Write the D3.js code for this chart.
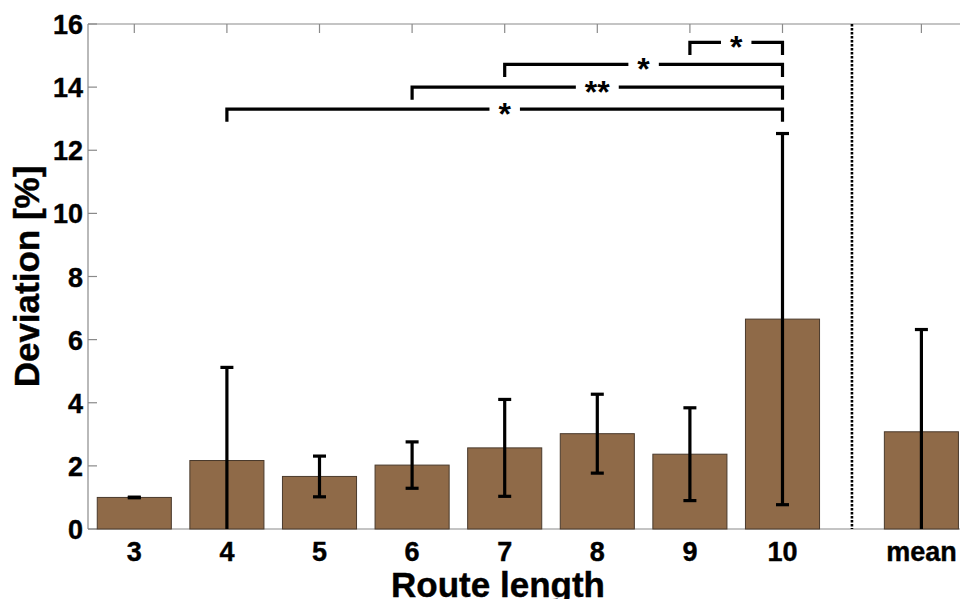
<!DOCTYPE html>
<html>
<head>
<meta charset="utf-8">
<script src="https://cdnjs.cloudflare.com/ajax/libs/d3/7.8.5/d3.min.js"></script>
<style>
  html, body { margin: 0; padding: 0; background: #fff; overflow: hidden; }
  svg { display: block; font-family: "Liberation Sans", Arial, sans-serif; font-weight: bold; }
</style>
</head>
<body>
<svg id="chart" width="960" height="599"></svg>
<script>
// Route lengths (plus the overall mean) and their deviation statistics
const categories = ["3", "4", "5", "6", "7", "8", "9", "10", "mean"];
const positions  = [3, 4, 5, 6, 7, 8, 9, 10, 11.5];
const means      = [1.00, 2.17, 1.665, 2.025, 2.57, 3.02, 2.37, 6.65, 3.08];
const errors     = [0.01, 2.95, 0.645, 0.735, 1.535, 1.25, 1.47, 5.88, 3.24];
const yTicks     = [0, 2, 4, 6, 8, 10, 12, 14, 16];
const separatorAt = 10.75;

// Significance brackets: [from, to, height, label]
const brackets = [
  [4, 10, 13.3, "*"],
  [6, 10, 14.0, "**"],
  [7, 10, 14.72, "*"],
  [9, 10, 15.42, "*"]
];

const svg = d3.select("#chart");
const plotLeft = 88, plotTop = 24, plotBottom = 529;
const step = 92.6;
const x = d3.scaleLinear().domain([2.5, 12.5]).range([plotLeft, plotLeft + step * 10]);
const y = d3.scaleLinear().domain([0, 16]).range([plotBottom, plotTop]);
const barW = 0.8 * (x(1) - x(0));
const axisColor = "#8a8a8a";

const plot = svg.append("g");

// Axis box (top, left, bottom)
plot.append("line").attr("x1", x(2.5)).attr("x2", x(12.5)).attr("y1", y(16)).attr("y2", y(16))
  .attr("stroke", axisColor).attr("stroke-width", 1.2);
plot.append("line").attr("x1", x(2.5)).attr("x2", x(12.5)).attr("y1", y(0)).attr("y2", y(0))
  .attr("stroke", axisColor).attr("stroke-width", 1.2);
plot.append("line").attr("x1", x(2.5)).attr("x2", x(2.5)).attr("y1", y(0)).attr("y2", y(16))
  .attr("stroke", axisColor).attr("stroke-width", 1.2);

// Inward ticks
const tickLen = 9;
plot.selectAll(".ytick").data(yTicks).join("line")
  .attr("x1", x(2.5)).attr("x2", x(2.5) + tickLen)
  .attr("y1", d => y(d)).attr("y2", d => y(d))
  .attr("stroke", axisColor).attr("stroke-width", 1.2);
plot.selectAll(".xtickTop").data(positions).join("line")
  .attr("x1", d => x(d)).attr("x2", d => x(d))
  .attr("y1", y(16)).attr("y2", y(16) + tickLen)
  .attr("stroke", axisColor).attr("stroke-width", 1.2);
plot.selectAll(".xtickBot").data(positions).join("line")
  .attr("x1", d => x(d)).attr("x2", d => x(d))
  .attr("y1", y(0)).attr("y2", y(0) - tickLen)
  .attr("stroke", axisColor).attr("stroke-width", 1.2);

// Tick labels
svg.selectAll(".ylab").data(yTicks).join("text")
  .attr("x", x(2.5) - 5).attr("y", d => y(d) + 10)
  .attr("text-anchor", "end").attr("font-size", 27).attr("fill", "#000")
  .attr("stroke", "#000").attr("stroke-width", 0.4)
  .text(d => d);
svg.selectAll(".xlab").data(categories).join("text")
  .attr("x", (d, i) => x(positions[i])).attr("y", 561)
  .attr("text-anchor", "middle").attr("font-size", 27).attr("fill", "#000")
  .attr("stroke", "#000").attr("stroke-width", 0.4)
  .text(d => d);

// Bars
const rows = categories.map((c, i) => ({ c, p: positions[i], m: means[i], e: errors[i] }));
plot.selectAll(".bar").data(rows).join("rect")
  .attr("x", d => x(d.p) - barW / 2).attr("width", barW)
  .attr("y", d => y(d.m)).attr("height", d => y(0) - y(d.m))
  .attr("fill", "#8f6a48").attr("stroke", "#4a3a2c").attr("stroke-width", 1);

// Error bars, clipped to the plot area
svg.append("clipPath").attr("id", "plotClip").append("rect")
  .attr("x", x(2.5)).attr("y", y(16)).attr("width", x(12.5) - x(2.5)).attr("height", y(0) - y(16));
const eb = svg.append("g").attr("clip-path", "url(#plotClip)");
const capW = 6.5;
rows.forEach(d => {
  const lo = d.m - d.e, hi = d.m + d.e;
  eb.append("line").attr("x1", x(d.p)).attr("x2", x(d.p)).attr("y1", y(lo)).attr("y2", y(hi))
    .attr("stroke", "#000").attr("stroke-width", 3.2);
  [lo, hi].forEach(v => {
    eb.append("line").attr("x1", x(d.p) - capW).attr("x2", x(d.p) + capW)
      .attr("y1", y(v)).attr("y2", y(v)).attr("stroke", "#000").attr("stroke-width", 3.2);
  });
});

// Separator between route lengths and the mean
plot.append("line").attr("x1", x(separatorAt)).attr("x2", x(separatorAt))
  .attr("y1", y(16)).attr("y2", y(0))
  .attr("stroke", "#000").attr("stroke-width", 2.6).attr("stroke-dasharray", "2.4,1.6");

// Significance brackets
const legDrop = 0.4;
brackets.forEach(([a, b, h, label]) => {
  const xa = x(a), xb = x(b), yy = y(h), yl = y(h - legDrop);
  const mid = (xa + xb) / 2;
  const t = svg.append("text").attr("x", mid).attr("y", yy + 16)
    .attr("text-anchor", "middle").attr("font-size", 32).attr("fill", "#000").text(label);
  const w = t.node().getComputedTextLength();
  const gap = w / 2 + 9;
  const g = svg.append("g").attr("fill", "none").attr("stroke", "#000").attr("stroke-width", 3.2);
  g.append("path").attr("d", `M${xa},${yl}V${yy}H${mid - gap}`);
  g.append("path").attr("d", `M${mid + gap},${yy}H${xb}V${yl}`);
});

// Axis titles
svg.append("text").attr("x", 498).attr("y", 597).attr("text-anchor", "middle")
  .attr("font-size", 35).attr("fill", "#000").attr("stroke", "#000").attr("stroke-width", 0.4)
  .text("Route length");
svg.append("text").attr("transform", `translate(39,${(y(0) + y(16)) / 2}) rotate(-90)`)
  .attr("text-anchor", "middle").attr("font-size", 35).attr("fill", "#000")
  .attr("stroke", "#000").attr("stroke-width", 0.4).text("Deviation [%]");
</script>
</body>
</html>
